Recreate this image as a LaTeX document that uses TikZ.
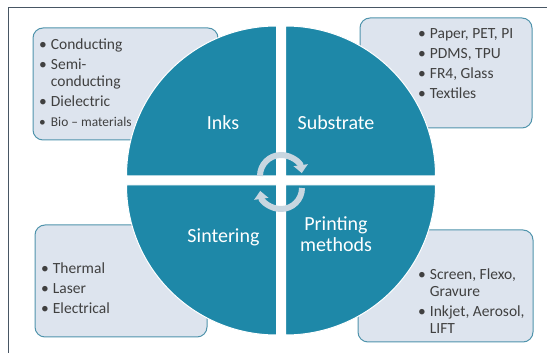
\documentclass[tikz,border=0pt]{standalone}
\usepackage{fontspec}
\setmainfont{Carlito}
\usepackage{xcolor}
\usepackage{tikz}
\usetikzlibrary{arrows.meta,positioning}

\definecolor{quadblue}{RGB}{30,136,168}
\definecolor{boxfill}{RGB}{221,228,238}
\definecolor{boxline}{RGB}{80,148,172}
\definecolor{turngray}{RGB}{200,214,224}
\definecolor{listgray}{RGB}{64,64,64}
\definecolor{framegray}{RGB}{72,86,100}

\newcommand{\bul}{\textbullet}

\begin{document}
\begin{tikzpicture}
	[x=1pt,y=1pt,
	quad/.style={fill=quadblue,draw=white,line width=1pt},
	infobox/.style={draw=boxline,fill=boxfill,line width=1pt,rounded corners=10pt,minimum width=#1,minimum height=112pt,inner sep=0pt},
	listtext/.style={anchor=base west,text=listgray,font=\fontsize{15.5}{17}\selectfont,inner sep=0pt},
	quadlabel/.style={anchor=base,text=white,font=\fontsize{20}{21}\selectfont,align=center,inner sep=0pt},
	turnarrow/.style={draw=turngray,line width=6pt,-{Triangle[width=14pt,length=8pt]}}]
	\useasboundingbox (0,0) rectangle (547,353);
	\draw[framegray,line width=1.5pt] (8.5,0) -- (8.5,345.5) -- (547,345.5);
	\node[infobox=185pt] (inksbox) at (125.5,269) {};
	\node[infobox=172pt,minimum height=110pt] (substratebox) at (446,280) {};
	\node[infobox=172pt] (sinterbox) at (121,72) {};
	\node[infobox=175pt] (printbox) at (445.5,67) {};
	\path[quad] (276.5,177) -- ++(-150,0) arc (180:90:150) -- cycle;
	\path[quad] (285.5,177) -- ++(0,150) arc (90:0:150) -- cycle;
	\path[quad] (276.5,168) -- ++(0,-150) arc (270:180:150) -- cycle;
	\path[quad] (285.5,168) -- ++(150,0) arc (0:-90:150) -- cycle;
	\draw[turnarrow] (260,177) arc (180:8:21);
	\draw[turnarrow] (302,165) arc (0:-172:21);
	\node[quadlabel] (inks) at (223,223) {Inks};
	\node[quadlabel] (substrate) at (336,223) {Substrate};
	\node[quadlabel] (sintering) at (223.5,110) {Sintering};
	\node[quadlabel] (printing) at (336,101) {Printing\\methods};
	\node[listtext] (inkslist) at (39,303) {\begin{tabular}[t]{@{}l@{\hspace{4pt}}l@{}}
		\bul&Conducting\\[3pt]
		\bul&Semi-\\
		&conducting\\[3pt]
		\bul&Dielectric\\[3pt]
		{\fontsize{13.4}{17}\selectfont\bul}&{\fontsize{13.4}{17}\selectfont Bio -- materials}
	\end{tabular}};
	\node[listtext] (substratelist) at (418,314.5) {\begin{tabular}[t]{@{}l@{\hspace{4pt}}l@{}}
		\bul&Paper, PET, PI\\[3pt]
		\bul&PDMS, TPU\\[3pt]
		\bul&FR4, Glass\\[3pt]
		\bul&Textiles
	\end{tabular}};
	\node[listtext] (sinterlist) at (41,79) {\begin{tabular}[t]{@{}l@{\hspace{4pt}}l@{}}
		\bul&Thermal\\[3pt]
		\bul&Laser\\[3pt]
		\bul&Electrical
	\end{tabular}};
	\node[listtext] (printlist) at (418,73) {\begin{tabular}[t]{@{}l@{\hspace{4pt}}l@{}}
		\bul&Screen, Flexo,\\
		&Gravure\\[3pt]
		\bul&Inkjet, Aerosol,\\
		&LIFT
	\end{tabular}};
\end{tikzpicture}
\end{document}
